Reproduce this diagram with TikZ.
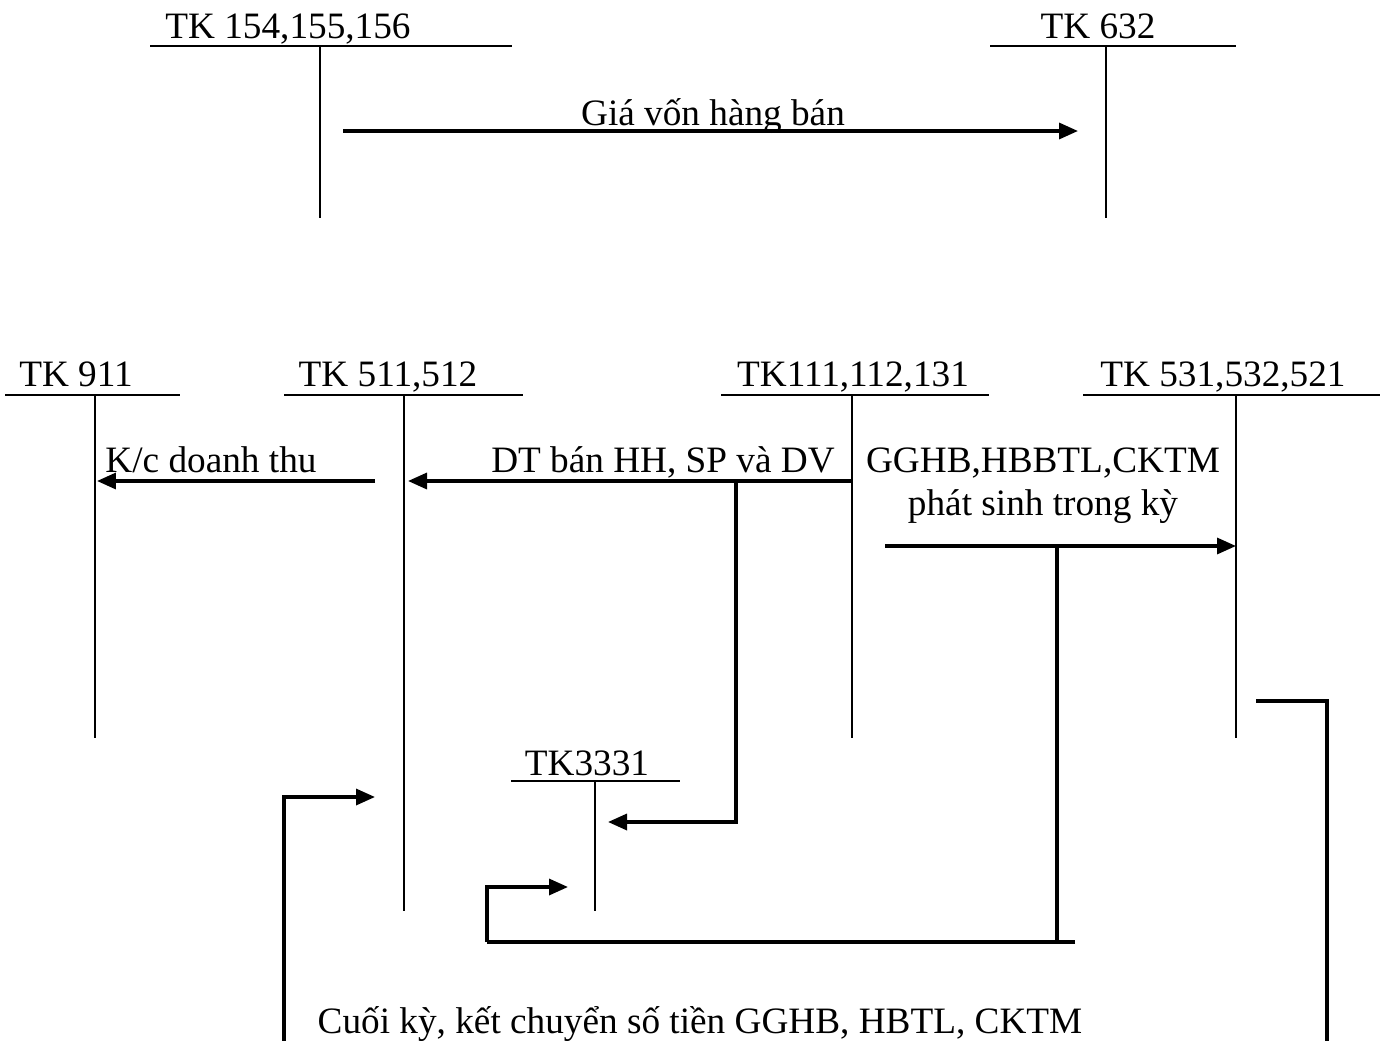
\documentclass[tikz,border=0pt]{standalone}
\usepackage{fontspec}
\setmainfont{Liberation Serif}
\usetikzlibrary{arrows.meta, positioning}

\begin{document}
\begin{tikzpicture}[
  x=0.02cm, y=-0.02cm,
  tline/.style={line width=1.1pt},
  wire/.style={line width=1.9pt},
  flow/.style={wire, -{Triangle[length=0.38cm, width=0.32cm]}},
  lbl/.style={anchor=base, inner sep=0pt,
              font=\fontsize{21.2}{25}\selectfont},
]
  \useasboundingbox (0,0) rectangle (1380,1041);

  % T accounts, top row
  \node[lbl] (n156) at (288,38) {TK 154,155,156};
  \coordinate (l156) at (150,46); \coordinate (r156) at (512,46);
  \coordinate (t156) at (320,46); \coordinate (b156) at (320,218);
  \draw[tline] (l156) -- (r156) (t156) -- (b156);

  \node[lbl] (n632) at (1098,38) {TK 632};
  \coordinate (l632) at (990,46); \coordinate (r632) at (1236,46);
  \coordinate (t632) at (1106,46); \coordinate (b632) at (1106,218);
  \draw[tline] (l632) -- (r632) (t632) -- (b632);

  \coordinate (gvA) at (343,131); \coordinate (gvB) at (1078,131);
  \draw[flow] (gvA) -- (gvB);
  \node[lbl] (gv) at (713,125) {Giá vốn hàng bán};

  % T accounts, second row
  \node[lbl] (n911) at (76,386) {TK 911};
  \coordinate (l911) at (5,395); \coordinate (r911) at (180,395);
  \coordinate (t911) at (95,395); \coordinate (b911) at (95,738);
  \draw[tline] (l911) -- (r911) (t911) -- (b911);

  \node[lbl] (n511) at (388,386) {TK 511,512};
  \coordinate (l511) at (284,395); \coordinate (r511) at (523,395);
  \coordinate (t511) at (404,395); \coordinate (b511) at (404,911);
  \draw[tline] (l511) -- (r511) (t511) -- (b511);

  \node[lbl] (n111) at (853,386) {TK111,112,131};
  \coordinate (l111) at (721,395); \coordinate (r111) at (989,395);
  \coordinate (t111) at (852,395); \coordinate (b111) at (852,738);
  \draw[tline] (l111) -- (r111) (t111) -- (b111);

  \node[lbl] (n531) at (1223,386) {TK 531,532,521};
  \coordinate (l531) at (1083,395); \coordinate (r531) at (1380,395);
  \coordinate (t531) at (1236,395); \coordinate (b531) at (1236,738);
  \draw[tline] (l531) -- (r531) (t531) -- (b531);

  \node[lbl] (n3331) at (587,775) {TK3331};
  \coordinate (l3331) at (511,781); \coordinate (r3331) at (680,781);
  \coordinate (t3331) at (595,781); \coordinate (b3331) at (595,911);
  \draw[tline] (l3331) -- (r3331) (t3331) -- (b3331);

  % closing revenue to 911
  \coordinate (kcA) at (375,481); \coordinate (kcB) at (97,481);
  \draw[flow] (kcA) -- (kcB);
  \node[lbl] (kc) at (211,472) {K/c doanh thu};

  % sales revenue and VAT
  \coordinate (dtA) at (852,481); \coordinate (dtB) at (408,481);
  \draw[flow] (dtA) -- (dtB);
  \node[lbl] (dt) at (663,472) {DT bán HH, SP và DV};
  \coordinate (vatA) at (736,481); \coordinate (vatB) at (608,822);
  \draw[flow] (vatA) |- (vatB);

  % discounts and returns
  \node[lbl] (gg1) at (1043,472) {GGHB,HBBTL,CKTM};
  \node[lbl] (gg2) at (1043,515) {phát sinh trong kỳ};
  \coordinate (ggA) at (885,546); \coordinate (ggB) at (1236,546);
  \draw[flow] (ggA) -- (ggB);
  \coordinate (ggC) at (1057,546); \coordinate (ggD) at (1075,942);
  \coordinate (ggE) at (487,942); \coordinate (ggF) at (568,887);
  \draw[wire] (ggC) -- (1057,942);
  \draw[wire] (ggD) -- (ggE);
  \draw[flow] (ggE) |- (ggF);

  % end of period transfer
  \coordinate (ckA) at (1256,701); \coordinate (ckB) at (1327,1041);
  \draw[wire] (ckA) -| (ckB);
  \coordinate (ckC) at (284,1041); \coordinate (ckD) at (375,797);
  \draw[flow] (ckC) |- (ckD);
  \node[lbl] (ck) at (700,1033) {Cuối kỳ, kết chuyển số tiền GGHB, HBTL, CKTM};
\end{tikzpicture}
\end{document}
